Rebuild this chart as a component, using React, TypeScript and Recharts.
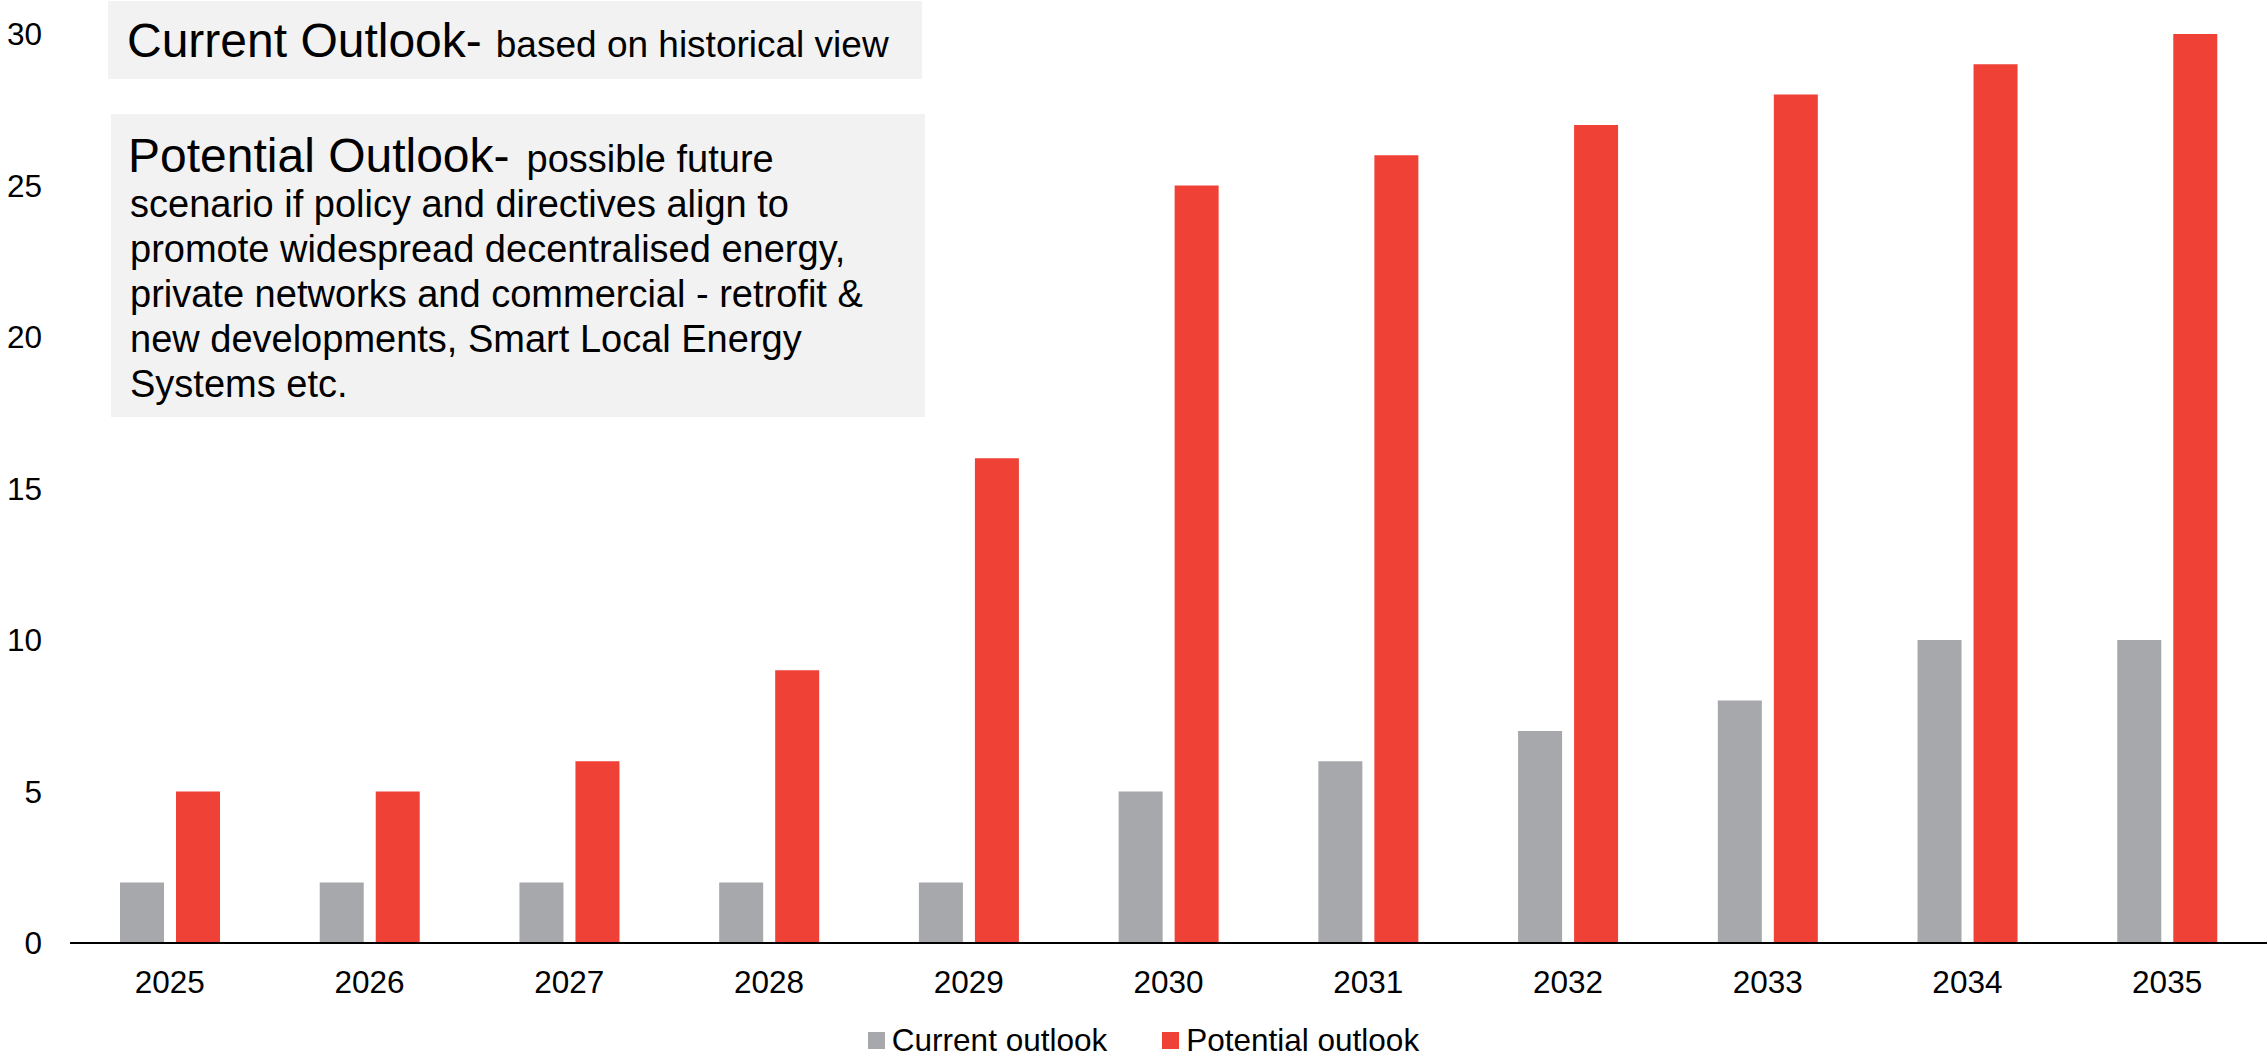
import React from 'react';
import { BarChart, Bar, XAxis, YAxis, Legend } from 'recharts';

const years = ['2025', '2026', '2027', '2028', '2029', '2030', '2031', '2032', '2033', '2034', '2035'];
const currentOutlook = [2, 2, 2, 2, 2, 5, 6, 7, 8, 10, 10];
const potentialOutlook = [5, 5, 6, 9, 16, 25, 26, 27, 28, 29, 30];
const yTicks = [0, 5, 10, 15, 20, 25, 30];

const currentNoteTitle = 'Current Outlook-';
const currentNoteText = 'based on historical view';
const potentialNoteTitle = 'Potential Outlook-';
const potentialNoteLines = [
  'possible future',
  'scenario if policy and directives align to',
  'promote widespread decentralised energy,',
  'private networks and commercial - retrofit &',
  'new developments, Smart Local Energy',
  'Systems etc.',
];

const GREY = '#A7A8AB';
const RED = '#EF4136';
const FONT = '"Liberation Sans", Arial, sans-serif';

const chartData = years.map((year, i) => ({
  year,
  current: currentOutlook[i],
  potential: potentialOutlook[i],
}));

const legendItems = [
  { label: 'Current outlook', color: GREY },
  { label: 'Potential outlook', color: RED },
];

const renderLegend = () => (
  <div
    style={{
      display: 'flex',
      justifyContent: 'center',
      alignItems: 'center',
      height: 40,
      paddingLeft: 20,
      fontFamily: FONT,
      fontSize: 31.5,
      color: '#000',
    }}
  >
    {legendItems.map((item, i) => (
      <div key={item.label} style={{ display: 'flex', alignItems: 'center', marginLeft: i === 0 ? 0 : 55 }}>
        <span style={{ width: 17, height: 17, background: item.color, marginRight: 7, display: 'inline-block' }} />
        <span>{item.label}</span>
      </div>
    ))}
  </div>
);

// the two grey note boxes sit over the top left of the plot
const Notes = () => (
  <svg
    width={2267}
    height={1060}
    style={{ position: 'absolute', left: 0, top: 0, pointerEvents: 'none' }}
    fontFamily={FONT}
  >
    <rect x={108} y={1} width={814} height={78} fill="#F2F2F2" />
    <text x={127} y={57} fill="#000">
      <tspan fontSize={48}>{currentNoteTitle}</tspan>
      <tspan fontSize={37} dx={14}>{currentNoteText}</tspan>
    </text>

    <rect x={111} y={114} width={814} height={303} fill="#F2F2F2" />
    <text x={128} y={172} fill="#000">
      <tspan fontSize={48}>{potentialNoteTitle}</tspan>
      <tspan fontSize={38} dx={17}>{potentialNoteLines[0]}</tspan>
    </text>
    {potentialNoteLines.slice(1).map((line, i) => (
      <text key={line} x={130} y={217 + i * 45} fontSize={38} fill="#000">
        {line}
      </text>
    ))}
  </svg>
);

export default function App() {
  return (
    <div style={{ position: 'absolute', left: 0, top: 0, width: 2267, height: 1060, background: '#fff' }}>
      <BarChart
        width={2267}
        height={1060}
        data={chartData}
        margin={{ top: 34, right: 0, left: 0, bottom: 0 }}
        barCategoryGap={50}
        barGap={12}
      >
        <XAxis
          dataKey="year"
          height={77}
          tickLine={false}
          tickSize={0}
          tickMargin={28}
          axisLine={{ stroke: '#000', strokeWidth: 2 }}
          tick={{ fill: '#000', fontSize: 31.5, fontFamily: FONT }}
          interval={0}
        />
        <YAxis
          width={70}
          domain={[0, 30]}
          ticks={yTicks}
          axisLine={false}
          tickLine={false}
          tickSize={0}
          tickMargin={28}
          tick={{ fill: '#000', fontSize: 31.5, fontFamily: FONT }}
        />
        <Legend verticalAlign="bottom" content={renderLegend} />
        <Bar dataKey="current" name="Current outlook" fill={GREY} isAnimationActive={false} />
        <Bar dataKey="potential" name="Potential outlook" fill={RED} isAnimationActive={false} />
      </BarChart>
      <Notes />
    </div>
  );
}
